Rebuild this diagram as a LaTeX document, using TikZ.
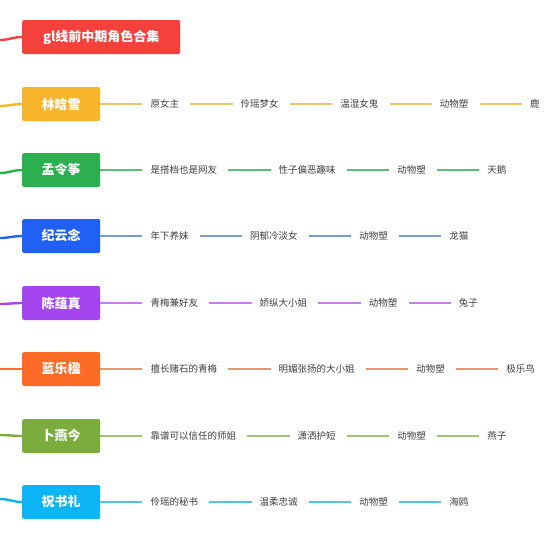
\documentclass[tikz,border=0pt]{standalone}
\usepackage{fontspec}
\setmainfont{Noto Sans CJK SC}
\usepackage{tikz}
\usetikzlibrary{positioning}

\definecolor{tagtext}{HTML}{3D3D3D}
\definecolor{cred}{HTML}{F5413B}
\definecolor{cyel}{HTML}{F7B52C}
\definecolor{cgrn}{HTML}{2BAF4F}
\definecolor{cblu}{HTML}{2160F5}
\definecolor{cpur}{HTML}{A545F0}
\definecolor{cora}{HTML}{FD6C26}
\definecolor{coli}{HTML}{7AAD3B}
\definecolor{ccya}{HTML}{0EB5F6}
\definecolor{lyel}{HTML}{EBC46A}
\definecolor{lgrn}{HTML}{5CBF78}
\definecolor{lblu}{HTML}{7A98D2}
\definecolor{lpur}{HTML}{C77DEB}
\definecolor{lora}{HTML}{E8966A}
\definecolor{loli}{HTML}{9EC47C}
\definecolor{lcya}{HTML}{4DC5EC}

\begin{document}
\begin{tikzpicture}[x=1pt,y=-1pt,
  box/.style={fill=#1,rounded corners=2pt,minimum height=34pt,minimum width=78pt,
    inner sep=0pt,text=white,font=\bfseries\fontsize{13}{13}\selectfont,anchor=west},
  tag/.style={inner sep=0pt,text=tagtext,font=\fontsize{9.5}{10}\selectfont,
    text height=8pt,text depth=1.5pt},
  twig/.style={#1,line width=1.2pt,shorten <=11pt,shorten >=8pt},
  trunk/.style={#1,line width=2.4pt}]
\useasboundingbox (0,0) rectangle (560,555);
% title box
\coordinate (s0) at (0,40);
\node[box=cred,minimum width=158pt] (b0) at (22,37) {gl线前中期角色合集};
\draw[trunk=cred] (s0) to[out=0,in=180] (b0.west);
% one row per character
\foreach \r/\nm/\fc/\lc/\cy/\dy/\tags in {
  1/林晗雪/cyel/lyel/104/2/{原女主,伶瑶梦女,温湿女鬼,动物塑,鹿},
  2/孟令筝/cgrn/lgrn/170/3/{是搭档也是网友,性子偏恶趣味,动物塑,天鹅},
  3/纪云念/cblu/lblu/236/2/{年下养妹,阴郁冷淡女,动物塑,龙猫},
  4/陈蕴真/cpur/lpur/303/1/{青梅兼好友,娇纵大小姐,动物塑,兔子},
  5/蓝乐楹/cora/lora/369/0/{擅长赌石的青梅,明媚张扬的大小姐,动物塑,极乐鸟},
  6/卜燕今/coli/loli/436/-1/{靠谱可以信任的师姐,潇洒护短,动物塑,燕子},
  7/祝书礼/ccya/lcya/502/-3/{伶瑶的秘书,温柔忠诚,动物塑,海鸥}} {
  \coordinate (s\r) at (0,\cy+\dy);
  \node[box=\fc] (b\r) at (22,\cy) {\nm};
  \draw[trunk=\fc] (s\r) to[out=0,in=180] (b\r.west);
  \foreach \t [count=\k, remember=\k as \p (initially 0)] in \tags {
    \ifnum\k=1
      \node[tag,right=50pt of b\r] (t\r-\k) {\t};
      \draw[twig=\lc,shorten <=0pt] (b\r.east) -- (t\r-\k.west);
    \else
      \node[tag,right=61.2pt of t\r-\p] (t\r-\k) {\t};
      \draw[twig=\lc] (t\r-\p.east) -- (t\r-\k.west);
    \fi
  }
}
\end{tikzpicture}
\end{document}
